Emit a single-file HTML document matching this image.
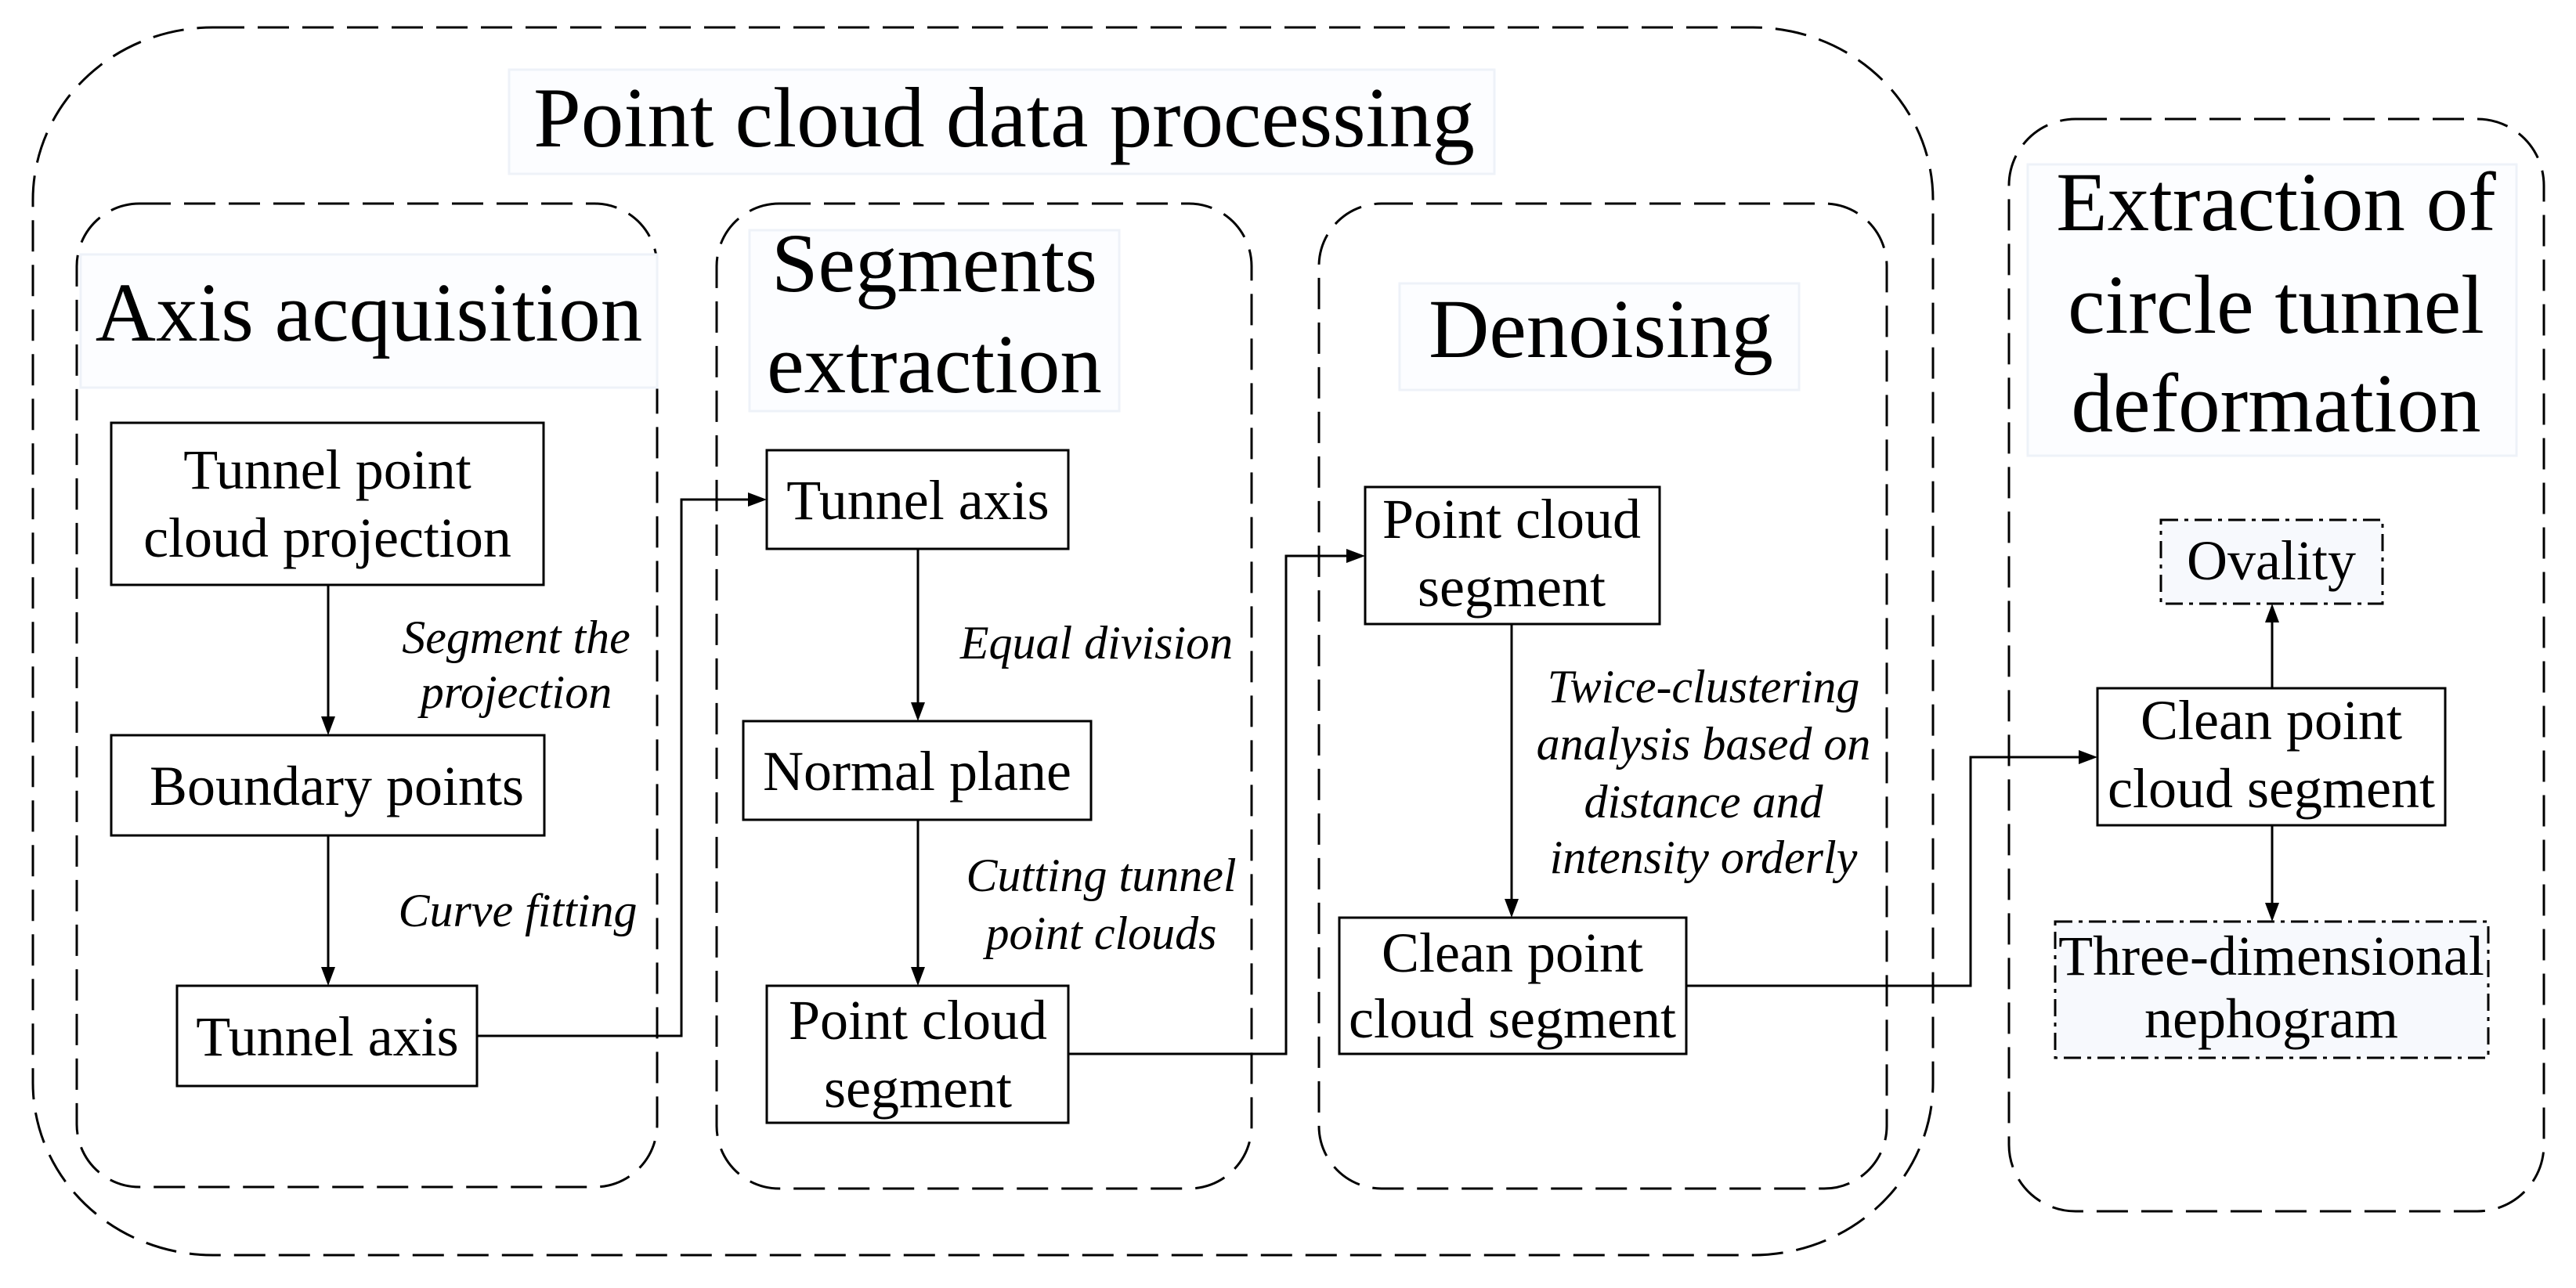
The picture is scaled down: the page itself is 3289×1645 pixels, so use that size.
<!DOCTYPE html>
<html><head><meta charset="utf-8"><style>
html,body{margin:0;padding:0;background:#fff;}
svg{display:block;}
text{font-family:"Liberation Serif",serif;fill:#000;}
.t{font-size:72px;text-anchor:middle;}
.h{font-size:107px;text-anchor:middle;}
.i{font-size:60px;font-style:italic;text-anchor:middle;}
</style></head><body>
<svg width="3289" height="1645" viewBox="0 0 3289 1645" xmlns="http://www.w3.org/2000/svg">
<defs>
<marker id="a" markerWidth="10" markerHeight="10" refX="9" refY="5" orient="auto" markerUnits="userSpaceOnUse" viewBox="0 0 10 10">
</marker>
</defs>
<g fill="none" stroke="#000" stroke-width="3" stroke-dasharray="40,17">
<rect x="42" y="35" width="2426" height="1568" rx="230" ry="220"/>
<rect x="98" y="260" width="741" height="1256" rx="80" ry="80"/>
<rect x="915" y="260" width="683" height="1258" rx="80" ry="80"/>
<rect x="1684" y="260" width="725" height="1258" rx="80" ry="80"/>
<rect x="2565" y="152" width="683" height="1395" rx="85" ry="85"/>
</g>
<!-- title backgrounds -->
<g fill="#fcfdff" stroke="#eef2f8" stroke-width="3">
<rect x="650" y="89" width="1258" height="133"/>
<rect x="103" y="325" width="736" height="170"/>
<rect x="957" y="294" width="472" height="231"/>
<rect x="1787" y="362" width="510" height="136"/>
<rect x="2589" y="210" width="624" height="372"/>
</g>
<text class="h" x="1282" y="187" style="font-size:109px">Point cloud data processing</text>
<text class="h" x="471" y="435">Axis acquisition</text>
<text class="h" x="1193" y="372">Segments</text>
<text class="h" x="1193" y="501">extraction</text>
<text class="h" x="2044" y="456">Denoising</text>
<text class="h" x="2906" y="294">Extraction of</text>
<text class="h" x="2906" y="425">circle tunnel</text>
<text class="h" x="2906" y="551">deformation</text>

<g fill="#fff" stroke="#000" stroke-width="3">
<rect x="142" y="540" width="552" height="207"/>
<rect x="142" y="939" width="553" height="128"/>
<rect x="226" y="1259" width="383" height="128"/>
<rect x="979" y="575" width="385" height="126"/>
<rect x="949" y="921" width="444" height="126"/>
<rect x="979" y="1259" width="385" height="175"/>
<rect x="1743" y="622" width="376" height="175"/>
<rect x="1710" y="1172" width="443" height="174"/>
<rect x="2678" y="879" width="444" height="175"/>
</g>
<g fill="#f7f9fd" stroke="#000" stroke-width="3" stroke-dasharray="22,8,5,8">
<rect x="2759" y="664" width="283" height="107"/>
<rect x="2624" y="1177" width="553" height="174"/>
</g>

<g fill="none" stroke="#000" stroke-width="3">
<line x1="419" y1="747" x2="419" y2="920"/>
<line x1="419" y1="1067" x2="419" y2="1240"/>
<polyline points="609,1323 870,1323 870,638 960,638"/>
<line x1="1172" y1="701" x2="1172" y2="902"/>
<line x1="1172" y1="1047" x2="1172" y2="1240"/>
<polyline points="1364,1346 1642,1346 1642,710 1724,710"/>
<line x1="1930" y1="797" x2="1930" y2="1153"/>
<polyline points="2153,1259 2516,1259 2516,967 2659,967"/>
<line x1="2901" y1="879" x2="2901" y2="790"/>
<line x1="2901" y1="1054" x2="2901" y2="1158"/>
</g>
<g fill="#000">
<polygon points="419,939 410,915 428,915"/>
<polygon points="419,1259 410,1235 428,1235"/>
<polygon points="979,638 955,629 955,647"/>
<polygon points="1172,921 1163,897 1181,897"/>
<polygon points="1172,1259 1163,1235 1181,1235"/>
<polygon points="1743,710 1719,701 1719,719"/>
<polygon points="1930,1172 1921,1148 1939,1148"/>
<polygon points="2678,967 2654,958 2654,976"/>
<polygon points="2901,771 2892,795 2910,795"/>
<polygon points="2901,1177 2892,1153 2910,1153"/>
</g>

<text class="t" x="418" y="624">Tunnel point</text>
<text class="t" x="418" y="711">cloud projection</text>
<text class="t" x="430" y="1028">Boundary points</text>
<text class="t" x="418" y="1348">Tunnel axis</text>
<text class="t" x="1172" y="663">Tunnel axis</text>
<text class="t" x="1171" y="1009">Normal plane</text>
<text class="t" x="1172" y="1327">Point cloud</text>
<text class="t" x="1172" y="1414">segment</text>
<text class="t" x="1930" y="687">Point cloud</text>
<text class="t" x="1930" y="774">segment</text>
<text class="t" x="1931" y="1241">Clean point</text>
<text class="t" x="1931" y="1325">cloud segment</text>
<text class="t" x="2900" y="944">Clean point</text>
<text class="t" x="2900" y="1031">cloud segment</text>
<text class="t" x="2900" y="740">Ovality</text>
<text class="t" x="2900" y="1245">Three-dimensional</text>
<text class="t" x="2900" y="1325">nephogram</text>

<text class="i" x="659" y="834">Segment the</text>
<text class="i" x="659" y="904">projection</text>
<text class="i" x="661" y="1183">Curve fitting</text>
<text class="i" x="1400" y="841">Equal division</text>
<text class="i" x="1406" y="1138">Cutting tunnel</text>
<text class="i" x="1406" y="1212">point clouds</text>
<text class="i" x="2175" y="897">Twice-clustering</text>
<text class="i" x="2175" y="970">analysis based on</text>
<text class="i" x="2175" y="1044">distance and</text>
<text class="i" x="2175" y="1115">intensity orderly</text>
</svg>
</body></html>
